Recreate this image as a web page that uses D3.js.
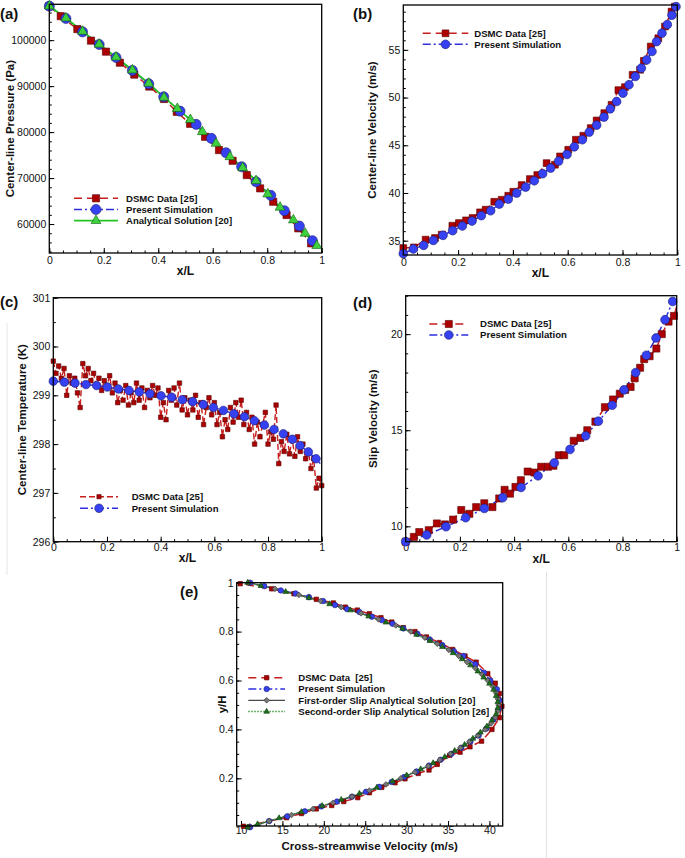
<!DOCTYPE html>
<html><head><meta charset="utf-8">
<script src="https://cdn.jsdelivr.net/npm/d3@7"></script>
<style>
body{margin:0;background:#fff;}
svg text{font-family:"Liberation Sans",Arial,Helvetica,sans-serif;fill:#111;}
.leg{white-space:pre;}
</style></head><body>
<svg id="chart" width="685" height="858"></svg>
<script>
// ---------------- DATA ----------------
// (a) Center-line pressure
const aDsmcX = [0, 0.042, 0.103, 0.153, 0.208, 0.259, 0.312, 0.367, 0.421, 0.468, 0.517, 0.572, 0.623, 0.673, 0.725, 0.774, 0.822, 0.871, 0.914, 0.961];
const aDsmcP = [107400, 105217, 102400, 99900, 97500, 95100, 92500, 89900, 87200, 84413, 81800, 78978, 76087, 73761, 70652, 67760, 64848, 61957, 59065, 55800];
const aSimX = [0, 0.061, 0.122, 0.183, 0.245, 0.305, 0.365, 0.420, 0.480, 0.539, 0.595, 0.649, 0.706, 0.759, 0.813, 0.863, 0.918, 0.966];
const aSimP = [107400, 104717, 101804, 99065, 96239, 93413, 90500, 87674, 84565, 81674, 78630, 75500, 72456, 69196, 66239, 62891, 59565, 56370];
const aAnaX = [0, 0.061, 0.122, 0.183, 0.245, 0.305, 0.365, 0.421, 0.470, 0.518, 0.562, 0.612, 0.663, 0.710, 0.759, 0.802, 0.847, 0.896, 0.939, 0.982];
const aAnaP = [107400, 104800, 101900, 99100, 96300, 93500, 90600, 87550, 85100, 82700, 80065, 77543, 74630, 72250, 69413, 66522, 63630, 60870, 57978, 55283];
const aXTicks = [0, 0.2, 0.4, 0.6, 0.8, 1];
const aYTicks = [60000, 70000, 80000, 90000, 100000];

// (b) Center-line velocity
const bDsmcX = [0, 0.039, 0.0815, 0.1156, 0.140, 0.179, 0.203, 0.229, 0.253, 0.280, 0.3005, 0.332, 0.359, 0.383, 0.4015, 0.432, 0.462, 0.489, 0.523, 0.5535, 0.572, 0.602, 0.630, 0.657, 0.684, 0.7056, 0.7336, 0.760, 0.785, 0.809, 0.837, 0.864, 0.878, 0.903, 0.9307, 0.955, 0.979, 0.991];
const bDsmcU = [34.23, 34.30, 35.11, 35.28, 35.63, 36.57, 36.85, 37.13, 37.38, 37.97, 38.25, 39.08, 39.29, 39.71, 40.13, 40.83, 41.46, 41.88, 43.13, 42.96, 43.83, 44.53, 45.58, 46.00, 46.80, 47.60, 48.37, 49.24, 50.78, 51.09, 52.38, 52.91, 53.85, 55.35, 56.22, 57.44, 59.01, 59.53];
const bSimX = [0, 0.0366, 0.0743, 0.1096, 0.1449, 0.1802, 0.2155, 0.2508, 0.2847, 0.3188, 0.3504, 0.3832, 0.4136, 0.4465, 0.4781, 0.5085, 0.5377, 0.5669, 0.5974, 0.6241, 0.6533, 0.6788, 0.7056, 0.7324, 0.7555, 0.7786, 0.8017, 0.8236, 0.8467, 0.8686, 0.8881, 0.9076, 0.9246, 0.9441, 0.9636, 0.9806, 0.9952];
const bSimU = [33.64, 34.13, 34.51, 35.03, 35.56, 36.05, 36.54, 37.06, 37.62, 38.14, 38.84, 39.36, 39.99, 40.62, 41.28, 42.02, 42.61, 43.34, 44.04, 44.84, 45.58, 46.38, 47.11, 47.95, 48.82, 49.59, 50.46, 51.34, 52.21, 53.08, 53.95, 54.83, 55.87, 56.75, 57.65, 58.63, 59.53];
const bYTicks = [35, 40, 45, 50, 55];

// (c) Center-line temperature
const cDsmcX = [0,0.01,0.02,0.03,0.04,0.05,0.06,0.07,0.08,0.09,0.10,0.11,0.12,0.13,0.14,0.15,0.16,0.17,0.18,0.19,0.20,0.21,0.22,0.23,0.24,0.25,0.26,0.27,0.28,0.29,0.30,0.31,0.32,0.33,0.34,0.35,0.36,0.37,0.38,0.39,0.40,0.41,0.42,0.43,0.44,0.45,0.46,0.47,0.48,0.49,0.50,0.51,0.52,0.53,0.54,0.55,0.56,0.57,0.58,0.59,0.60,0.61,0.62,0.63,0.64,0.65,0.66,0.67,0.68,0.69,0.70,0.71,0.72,0.73,0.74,0.75,0.76,0.77,0.78,0.79,0.80,0.81,0.82,0.83,0.84,0.85,0.86,0.87,0.88,0.89,0.90,0.91,0.92,0.93,0.94,0.95,0.96,0.97,0.98,0.99,1.00];
const cDsmcT = [299.70,299.45,299.60,299.35,299.55,299.00,299.40,299.25,299.35,299.05,298.75,299.65,299.40,299.55,299.30,299.45,299.20,299.35,299.10,299.30,299.20,299.40,299.05,299.25,298.85,299.10,298.90,299.20,298.80,299.05,298.85,299.25,298.90,299.15,298.75,299.10,298.95,299.20,299.00,299.15,298.55,298.85,298.50,299.10,298.90,299.15,298.80,299.25,298.70,298.95,298.60,298.90,298.70,299.00,298.55,298.85,298.40,298.75,298.95,298.60,298.85,298.40,298.65,298.15,298.50,298.30,298.75,298.45,298.85,298.55,298.90,298.40,298.65,298.30,298.55,298.00,298.45,298.15,298.40,298.65,298.00,298.25,298.10,298.80,297.60,298.05,297.85,298.20,297.80,298.10,297.75,298.15,297.85,298.00,297.70,297.85,297.50,297.70,297.10,297.30,297.15];
const cSimX = [0, 0.0411, 0.0809, 0.1218, 0.1616, 0.2013, 0.2423, 0.2821, 0.3206, 0.3603, 0.4013, 0.4410, 0.4808, 0.5193, 0.5590, 0.5963, 0.6335, 0.6733, 0.7118, 0.7490, 0.7863, 0.8223, 0.8571, 0.8906, 0.9192, 0.9502, 0.9788, 1.0];
const cSimT = [299.29, 299.27, 299.25, 299.22, 299.20, 299.17, 299.13, 299.10, 299.07, 299.03, 298.99, 298.96, 298.91, 298.87, 298.81, 298.75, 298.69, 298.62, 298.56, 298.48, 298.39, 298.30, 298.21, 298.10, 297.97, 297.84, 297.70, 297.57];
const cYTicks = [296, 297, 298, 299, 300, 301];

// (d) Slip velocity
const dDsmcX = [0, 0.03, 0.05, 0.085, 0.115, 0.145, 0.175, 0.205, 0.235, 0.26, 0.29, 0.32, 0.345, 0.365, 0.385, 0.405, 0.425, 0.45, 0.475, 0.50, 0.525, 0.545, 0.565, 0.585, 0.62, 0.645, 0.67, 0.70, 0.735, 0.765, 0.79, 0.81, 0.83, 0.845, 0.865, 0.88, 0.90, 0.925, 0.945, 0.97, 0.99, 1.0];
const dDsmcU = [9.20, 9.45, 9.70, 9.80, 10.15, 10.10, 10.35, 10.85, 10.65, 11.00, 11.20, 11.00, 11.45, 11.90, 11.70, 12.05, 12.40, 12.85, 12.80, 13.10, 13.10, 13.15, 13.70, 13.70, 14.45, 14.60, 15.00, 15.45, 16.20, 16.60, 16.90, 17.10, 17.25, 17.70, 18.25, 18.70, 18.85, 19.25, 20.00, 20.65, 20.95, 21.45];
const dSimX = [0, 0.0774, 0.1487, 0.2213, 0.2901, 0.3578, 0.4255, 0.4882, 0.5485, 0.6063, 0.6641, 0.7109, 0.762, 0.8055, 0.8487, 0.888, 0.9237, 0.9569, 0.9852];
const dSimU = [9.20, 9.55, 9.98, 10.45, 10.93, 11.49, 12.02, 12.63, 13.30, 14.00, 14.71, 15.47, 16.30, 17.10, 18.00, 18.90, 19.80, 20.75, 21.70];
const dYTicks = [10, 15, 20];

// (e) Cross-streamwise velocity profile
const eDsmcY = [0.004, 0.039, 0.056, 0.075, 0.089, 0.105, 0.121, 0.141, 0.163, 0.182, 0.198, 0.220, 0.234, 0.257, 0.294, 0.307, 0.329, 0.352, 0.400, 0.448, 0.495, 0.547, 0.589, 0.628, 0.675, 0.700, 0.727, 0.755, 0.778, 0.800, 0.816, 0.839, 0.857, 0.873, 0.888, 0.900, 0.917, 0.932, 0.955, 0.975, 0.996];
const eDsmcU = [10.3, 15.5, 17.3, 19.1, 20.95, 22.4, 24.1, 25.5, 27.0, 28.6, 29.8, 31.4, 32.7, 33.7, 35.2, 36.45, 37.65, 39.05, 40.3, 41.2, 41.5, 41.2, 40.7, 39.8, 38.4, 37.05, 35.55, 33.95, 32.4, 31.0, 29.6, 28.2, 26.9, 25.5, 24.05, 22.6, 21.15, 19.1, 16.4, 13.7, 9.9];
const eSimY = [0.0, 0.025, 0.045, 0.065, 0.085, 0.105, 0.125, 0.145, 0.165, 0.185, 0.205, 0.228, 0.252, 0.276, 0.300, 0.325, 0.350, 0.375, 0.403, 0.441, 0.482, 0.520, 0.564, 0.600, 0.632, 0.666, 0.700, 0.720, 0.745, 0.768, 0.791, 0.813, 0.832, 0.847, 0.861, 0.880, 0.892, 0.9085, 0.925, 0.941, 0.956, 0.9685, 0.986, 1.0];
const eSimU = [11.1, 13.4, 15.6, 17.7, 19.7, 21.6, 23.4, 25.1, 26.7, 28.2, 29.7, 31.2, 32.7, 34.1, 35.4, 36.6, 37.7, 38.7, 39.6, 40.5, 41.1, 41.2, 40.9, 40.1, 39.35, 38.3, 36.85, 35.7, 34.3, 32.8, 31.3, 29.6, 28.3, 27.0, 25.8, 24.3, 22.8, 21.35, 19.9, 18.2, 16.6, 14.8, 12.8, 11.1];
const eFirstY = [0, 0.025, 0.05, 0.075, 0.1, 0.125, 0.15, 0.175, 0.2, 0.225, 0.25, 0.275, 0.3, 0.325, 0.35, 0.375, 0.4, 0.425, 0.45, 0.475, 0.5, 0.525, 0.55, 0.575, 0.6, 0.625, 0.65, 0.675, 0.7, 0.725, 0.75, 0.775, 0.8, 0.825, 0.85, 0.875, 0.9, 0.925, 0.95, 0.975, 1];
const eFirstU = [10.9, 13.4, 16.1, 18.7, 21.1, 23.4, 25.5, 27.5, 29.3, 31.0, 32.6, 34.0, 35.3, 36.5, 37.6, 38.6, 39.5, 40.2, 40.7, 41.0, 41.1, 41.0, 40.8, 40.4, 39.8, 39.1, 38.3, 37.3, 36.3, 35.1, 33.7, 32.2, 30.5, 28.7, 26.6, 24.5, 22.1, 19.6, 17.0, 14.1, 10.9];
const eSecondY = [0, 0.0125, 0.0375, 0.0625, 0.0875, 0.1125, 0.1375, 0.1625, 0.1875, 0.2125, 0.2375, 0.2625, 0.2875, 0.3125, 0.3375, 0.3625, 0.3875, 0.4125, 0.4375, 0.4625, 0.4875, 0.5125, 0.5375, 0.5625, 0.5875, 0.6125, 0.6375, 0.6625, 0.6875, 0.7125, 0.7375, 0.7625, 0.7875, 0.8125, 0.8375, 0.8625, 0.8875, 0.9125, 0.9375, 0.9625, 0.9875, 1];
const eSecondU = [10.8, 12.0, 14.6, 17.3, 19.8, 22.1, 24.3, 26.4, 28.3, 30.0, 31.7, 33.2, 34.6, 35.8, 37.0, 38.0, 38.9, 39.7, 40.3, 40.8, 41.0, 41.0, 40.8, 40.5, 40.0, 39.3, 38.6, 37.7, 36.7, 35.6, 34.3, 32.8, 31.2, 29.5, 27.5, 25.4, 23.2, 20.7, 18.2, 15.4, 12.4, 10.8];
const eXTicks = [10, 15, 20, 25, 30, 35, 40];
const eYTicks = [0.2, 0.4, 0.6, 0.8, 1];

// ---------------- STYLES ----------------
const RED = {color:"#c81e1e", dash:"8,5", width:1.5, sym:d3.symbolSquare, fill:"#ad0000", stroke:"#5a0000"};
const BLUE = {color:"#2f2fe0", dash:"8,3,2,3", width:1.5, sym:d3.symbolCircle, fill:"#3642f2", stroke:"#1c1c70"};
const GREEN = {color:"#22c422", dash:null, width:1.8, sym:d3.symbolTriangle, fill:"#3fd03f", stroke:"#0f600f"};
const GREY = {color:"#4a4a4a", dash:null, width:1.3, sym:"diamond", fill:"#777", stroke:"#333"};
const DKGREEN = {color:"#3f9f3f", dash:"1.5,1.5", width:1.5, sym:d3.symbolTriangle, fill:"#1e6e1e", stroke:"#0f400f"};

const svg = d3.select("#chart");

function symPath(sym, size){
  if(sym === "diamond") return d3.symbol().type(d3.symbolSquare).size(size)();
  return d3.symbol().type(sym).size(size)();
}

function drawPanel(p){
  const g = svg.append("g");
  const x = d3.scaleLinear().domain(p.xDomain).range([p.left, p.right]);
  const y = d3.scaleLinear().domain(p.yDomain).range([p.bottom, p.top]);

  // minor ticks
  g.append("g").attr("transform",`translate(0,${p.bottom})`)
    .call(d3.axisBottom(x).tickValues(p.xMinor).tickSize(-2.5).tickFormat(""))
    .call(s=>s.select(".domain").remove());
  g.append("g").attr("transform",`translate(${p.left},0)`)
    .call(d3.axisLeft(y).tickValues(p.yMinor).tickSize(-2.5).tickFormat(""))
    .call(s=>s.select(".domain").remove());
  // major ticks
  const gx = g.append("g").attr("transform",`translate(0,${p.bottom})`)
    .call(d3.axisBottom(x).tickValues(p.xTicks).tickSize(-5).tickPadding(p.xPad ?? 4).tickFormat(d=>String(d)));
  const gy = g.append("g").attr("transform",`translate(${p.left},0)`)
    .call(d3.axisLeft(y).tickValues(p.yTicks).tickSize(-5).tickPadding(3).tickFormat(d=>String(d)));
  [gx,gy].forEach(a=>{
    a.select(".domain").remove();
    a.selectAll("text").style("font-size","10.5px").style("font-family","'Liberation Sans',Arial,sans-serif").attr("fill","#111");
  });
  g.selectAll(".tick line").attr("stroke","#000").attr("stroke-width",1);

  // clip
  const cid = "clip"+p.label.replace(/[()]/g,"");
  svg.append("clipPath").attr("id",cid).append("rect")
    .attr("x",p.left).attr("y",p.top).attr("width",p.right-p.left).attr("height",p.bottom-p.top);

  // series
  p.series.forEach(s=>{
    const pts = p.swap ? d3.zip(s.y, s.x) : d3.zip(s.x, s.y); // [xval, yval]
    const line = d3.line().x(d=>x(d[0])).y(d=>y(d[1]));
    g.append("path").datum(pts).attr("d",line).attr("fill","none")
      .attr("stroke",s.st.color).attr("stroke-width",s.st.width)
      .attr("stroke-dasharray",s.st.dash).attr("clip-path",`url(#${cid})`);
  });
  p.series.forEach(s=>{
    const pts = p.swap ? d3.zip(s.y, s.x) : d3.zip(s.x, s.y);
    const every = s.every || 1;
    const mk = pts.filter((d,i)=> i % every === 0 && (!s.skipLast || i < pts.length-1));
    g.append("g").selectAll("path").data(mk).join("path")
      .attr("d", symPath(s.st.sym, s.size))
      .attr("transform", d=>`translate(${x(d[0])},${y(d[1])})${s.st.sym==="diamond"?" rotate(45)":""}`)
      .attr("fill", s.st.fill).attr("stroke", s.st.stroke).attr("stroke-width",0.6);
  });

  // frame
  g.append("rect").attr("x",p.left).attr("y",p.top).attr("width",p.right-p.left).attr("height",p.bottom-p.top)
    .attr("fill","none").attr("stroke","#000").attr("stroke-width",1.3);

  // titles
  g.append("text").attr("x",(p.left+p.right)/2).attr("y",p.bottom+(p.xTitleDy ?? 22)).attr("text-anchor","middle")
    .style("font-weight","bold").style("font-size",p.xTitleSize || "12px").text(p.xLabel);
  g.append("text").attr("transform",`translate(${p.yLabelX},${(p.top+p.bottom)/2}) rotate(-90)`)
    .attr("text-anchor","middle").attr("dy","0.35em")
    .style("font-weight","bold").style("font-size","11.5px").text(p.yLabel);
  g.append("text").attr("x",p.labelX).attr("y",p.labelY).style("font-weight","bold").style("font-size","15px").text(p.label);

  // legend
  const L = p.legend;
  p.series.forEach((s,i)=>{
    const yy = L.y0 + i*L.dy;
    g.append("line").attr("x1",L.x1).attr("x2",L.x2).attr("y1",yy).attr("y2",yy)
      .attr("stroke",s.st.color).attr("stroke-width",s.st.width).attr("stroke-dasharray",s.st.dash);
    const cx = (L.x1+L.x2)/2;
    g.append("path").attr("d",symPath(s.st.sym, s.lsize || s.size))
      .attr("transform",`translate(${cx},${yy})${s.st.sym==="diamond"?" rotate(45)":""}`)
      .attr("fill",s.st.fill).attr("stroke",s.st.stroke).attr("stroke-width",0.6);
    g.append("text").attr("class","leg").attr("x",L.tx).attr("y",yy).attr("dy","0.36em")
      .style("font-weight","bold").style("font-size","9.6px").text(s.name);
  });
}

const x01Minor = d3.range(0, 1.0001, 0.05);

// (a)
drawPanel({
  left:49.3, right:321.7, top:4.3, bottom:253,
  xDomain:[0,1], yDomain:[53700,107800],
  xTicks:aXTicks, xMinor:x01Minor, yTicks:aYTicks, yMinor:d3.range(54000,107801,2000),
  xLabel:"x/L", yLabel:"Center-line Pressure (Pa)", yLabelX:10, label:"(a)", labelX:0, labelY:19,
  series:[
    {name:"DSMC Data [25]", x:aDsmcX, y:aDsmcP, st:RED, size:52},
    {name:"Present Simulation", x:aSimX, y:aSimP, st:BLUE, size:80},
    {name:"Analytical Solution [20]", x:aAnaX, y:aAnaP, st:GREEN, size:42}
  ],
  legend:{x1:74, x2:118, tx:126, y0:198.3, dy:11.2}
});

// (b)
drawPanel({
  left:403.3, right:677.3, top:5, bottom:255,
  xDomain:[0,1], yDomain:[33.5,59.7],
  xTicks:aXTicks, xMinor:x01Minor, yTicks:bYTicks, yMinor:d3.range(34,59.8,1),
  xLabel:"x/L", yLabel:"Center-line Velocity (m/s)", yLabelX:372, label:"(b)", labelX:353, labelY:19,
  series:[
    {name:"DSMC Data [25]", x:bDsmcX, y:bDsmcU, st:RED, size:46},
    {name:"Present Simulation", x:bSimX, y:bSimU, st:BLUE, size:60}
  ],
  legend:{x1:422.7, x2:468.3, tx:474.3, y0:33.3, dy:11}
});

// (c)
drawPanel({
  left:53.3, right:321.7, top:297.7, bottom:541.7,
  xDomain:[0,1], yDomain:[296,301], xPad:2, xTitleDy:20,
  xTicks:aXTicks, xMinor:x01Minor, yTicks:cYTicks, yMinor:d3.range(296,301.01,0.5),
  xLabel:"x/L", yLabel:"Center-line Temperature (K)", yLabelX:21.7, label:"(c)", labelX:0, labelY:307,
  series:[
    {name:"DSMC Data [25]", x:cDsmcX, y:cDsmcT, st:{...RED, dash:"6,3", width:1.4}, size:20, lsize:18},
    {name:"Present Simulation", x:cSimX, y:cSimT, st:BLUE, size:58, skipLast:true}
  ],
  legend:{x1:80, x2:118, tx:131.7, y0:496.7, dy:11.6}
});

// (d)
drawPanel({
  left:405.7, right:676.7, top:295.7, bottom:541.7,
  xDomain:[0,1], yDomain:[9.2,22], xPad:2, xTitleDy:21,
  xTicks:aXTicks, xMinor:x01Minor, yTicks:dYTicks, yMinor:d3.range(10,22.01,1),
  xLabel:"x/L", yLabel:"Slip Velocity (m/s)", yLabelX:373, label:"(d)", labelX:353, labelY:308,
  series:[
    {name:"DSMC Data [25]", x:dDsmcX, y:dDsmcU, st:RED, size:50, skipLast:true},
    {name:"Present Simulation", x:dSimX, y:dSimU, st:BLUE, size:60}
  ],
  legend:{x1:429.3, x2:468.3, tx:480, y0:324, dy:11}
});

// (e)
drawPanel({
  left:236.7, right:502.7, top:582.7, bottom:826, swap:true, xPad:1, xTitleDy:24, xTitleSize:"11.5px",
  xDomain:[9.48,41.6], yDomain:[0.005,1],
  xTicks:eXTicks, xMinor:d3.range(10,41.6,1), yTicks:eYTicks, yMinor:d3.range(0.05,1.001,0.05),
  xLabel:"Cross-streamwise Velocity (m/s)", yLabel:"y/H", yLabelX:222, label:"(e)", labelX:180, labelY:597,
  series:[
    {name:"DSMC Data  [25]", x:eDsmcY, y:eDsmcU, st:RED, size:20},
    {name:"Present Simulation", x:eSimY, y:eSimU, st:BLUE, size:24},
    {name:"First-order Slip Analytical Solution [20]", x:eFirstY, y:eFirstU, st:GREY, size:16},
    {name:"Second-order Slip Analytical Solution [26]", x:eSecondY, y:eSecondU, st:DKGREEN, size:14}
  ],
  legend:{x1:248.3, x2:285, tx:298.3, y0:677.7, dy:11.3}
});

// faint separator lines present in the composite figure
svg.append("line").attr("x1",7).attr("x2",7).attr("y1",323).attr("y2",575).attr("stroke","#e6e6e6");
svg.append("line").attr("x1",546.5).attr("x2",546.5).attr("y1",572).attr("y2",858).attr("stroke","#e2e2e2");
</script></body></html>
